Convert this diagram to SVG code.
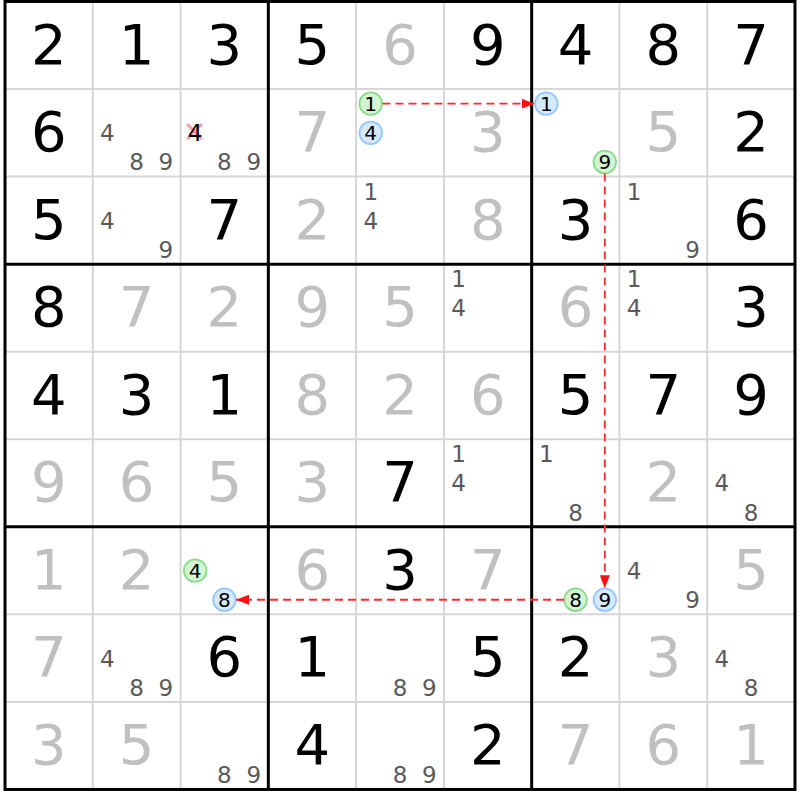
<svg xmlns="http://www.w3.org/2000/svg" width="800" height="800" viewBox="0 0 800 800">
<style>
text{font-family:"DejaVu Sans","Liberation Sans",sans-serif;text-anchor:middle}
.g{font-size:56px;fill:#000}
.h{font-size:56px;fill:#c0c0c0}
.c{font-size:23px;fill:#5a5a5a}
.k{font-size:20px;fill:#000}
.thin{stroke:#d6d6d6;stroke-width:2}
.thick{stroke:#000;stroke-width:3}
.gc{fill:#d4f4d4;stroke:#88dc88;stroke-width:1.8}
.bc{fill:#d6eaff;stroke:#94c6ff;stroke-width:1.8}
.ar{stroke:#ff2a2a;stroke-width:1.8;stroke-dasharray:8 5;fill:none}
.x{stroke:#ff8898;stroke-width:3;opacity:0.8}
</style>
<defs>
<marker id="ah" markerUnits="userSpaceOnUse" viewBox="0 0 13 10" markerWidth="13" markerHeight="10" refX="13" refY="5" orient="auto">
<path d="M0,0 L13,5 L0,10 z" fill="#ff1010"/>
</marker>
</defs>
<rect x="0" y="0" width="800" height="800" fill="#fff"/>
<g id="grid">
<g class="thin">
<line x1="92.78" y1="1.5" x2="92.78" y2="789.45"/>
<line x1="180.56" y1="1.5" x2="180.56" y2="789.45"/>
<line x1="356.11" y1="1.5" x2="356.11" y2="789.45"/>
<line x1="443.89" y1="1.5" x2="443.89" y2="789.45"/>
<line x1="619.44" y1="1.5" x2="619.44" y2="789.45"/>
<line x1="707.22" y1="1.5" x2="707.22" y2="789.45"/>
<line x1="5" y1="89.05" x2="795" y2="89.05"/>
<line x1="5" y1="176.6" x2="795" y2="176.6"/>
<line x1="5" y1="351.7" x2="795" y2="351.7"/>
<line x1="5" y1="439.25" x2="795" y2="439.25"/>
<line x1="5" y1="614.35" x2="795" y2="614.35"/>
<line x1="5" y1="701.9" x2="795" y2="701.9"/>
</g>
<g class="thick">
<line x1="268.33" y1="1.5" x2="268.33" y2="789.45"/>
<line x1="531.67" y1="1.5" x2="531.67" y2="789.45"/>
<line x1="5" y1="264.15" x2="795" y2="264.15"/>
<line x1="5" y1="526.8" x2="795" y2="526.8"/>
<rect x="5" y="1.5" width="790" height="787.95" fill="none"/>
</g>
</g>
<g id="values">
<g id="r1">
<text class="g" x="48.89" y="63.5">2</text><text class="g" x="136.67" y="63.5">1</text><text class="g" x="224.44" y="63.5">3</text>
<text class="g" x="312.22" y="63.5">5</text><text class="h" x="400" y="63.5">6</text><text class="g" x="487.78" y="63.5">9</text>
<text class="g" x="575.56" y="63.5">4</text><text class="g" x="663.33" y="63.5">8</text><text class="g" x="751.11" y="63.5">7</text>
</g>
<g id="r2">
<text class="g" x="48.89" y="151.05">6</text>
<text class="h" x="312.22" y="151.05">7</text><text class="h" x="487.78" y="151.05">3</text>
<text class="h" x="663.33" y="151.05">5</text><text class="g" x="751.11" y="151.05">2</text>
</g>
<g id="r3">
<text class="g" x="48.89" y="238.6">5</text><text class="g" x="224.44" y="238.6">7</text>
<text class="h" x="312.22" y="238.6">2</text><text class="h" x="487.78" y="238.6">8</text>
<text class="g" x="575.56" y="238.6">3</text><text class="g" x="751.11" y="238.6">6</text>
</g>
<g id="r4">
<text class="g" x="48.89" y="326.15">8</text><text class="h" x="136.67" y="326.15">7</text><text class="h" x="224.44" y="326.15">2</text>
<text class="h" x="312.22" y="326.15">9</text><text class="h" x="400" y="326.15">5</text>
<text class="h" x="575.56" y="326.15">6</text><text class="g" x="751.11" y="326.15">3</text>
</g>
<g id="r5">
<text class="g" x="48.89" y="413.7">4</text><text class="g" x="136.67" y="413.7">3</text><text class="g" x="224.44" y="413.7">1</text>
<text class="h" x="312.22" y="413.7">8</text><text class="h" x="400" y="413.7">2</text><text class="h" x="487.78" y="413.7">6</text>
<text class="g" x="575.56" y="413.7">5</text><text class="g" x="663.33" y="413.7">7</text><text class="g" x="751.11" y="413.7">9</text>
</g>
<g id="r6">
<text class="h" x="48.89" y="501.25">9</text><text class="h" x="136.67" y="501.25">6</text><text class="h" x="224.44" y="501.25">5</text>
<text class="h" x="312.22" y="501.25">3</text><text class="g" x="400" y="501.25">7</text>
<text class="h" x="663.33" y="501.25">2</text>
</g>
<g id="r7">
<text class="h" x="48.89" y="588.8">1</text><text class="h" x="136.67" y="588.8">2</text>
<text class="h" x="312.22" y="588.8">6</text><text class="g" x="400" y="588.8">3</text><text class="h" x="487.78" y="588.8">7</text>
<text class="h" x="751.11" y="588.8">5</text>
</g>
<g id="r8">
<text class="h" x="48.89" y="676.35">7</text><text class="g" x="224.44" y="676.35">6</text>
<text class="g" x="312.22" y="676.35">1</text><text class="g" x="487.78" y="676.35">5</text>
<text class="g" x="575.56" y="676.35">2</text><text class="h" x="663.33" y="676.35">3</text>
</g>
<g id="r9">
<text class="h" x="48.89" y="763.9">3</text><text class="h" x="136.67" y="763.9">5</text>
<text class="g" x="312.22" y="763.9">4</text><text class="g" x="487.78" y="763.9">2</text>
<text class="h" x="575.56" y="763.9">7</text><text class="h" x="663.33" y="763.9">6</text><text class="h" x="751.11" y="763.9">1</text>
</g>
</g>
<g id="candidates">
<g id="r2c2"><text class="c" x="107.41" y="141.2">4</text><text class="c" x="136.67" y="170.4">8</text><text class="c" x="165.93" y="170.4">9</text></g>
<g id="r2c3"><line class="x" x1="187" y1="124" x2="202" y2="139"/><line class="x" x1="202" y1="124" x2="187" y2="139"/><text class="c" x="195.19" y="141.2" style="fill:#000">4</text><text class="c" x="224.44" y="170.4">8</text><text class="c" x="253.71" y="170.4">9</text></g>
<g id="r2c5"><circle class="gc" cx="370.74" cy="103.65" r="11.3"/><text class="k" x="370.74" y="110.9">1</text><circle class="bc" cx="370.74" cy="132.83" r="11.3"/><text class="k" x="370.74" y="140.1">4</text></g>
<g id="r2c7"><circle class="bc" cx="546.3" cy="103.65" r="11.3"/><text class="k" x="546.3" y="110.9">1</text><circle class="gc" cx="604.82" cy="162.01" r="11.3"/><text class="k" x="604.82" y="169.3">9</text></g>
<g id="r3c2"><text class="c" x="107.41" y="228.7">4</text><text class="c" x="165.93" y="257.9">9</text></g>
<g id="r3c5"><text class="c" x="370.74" y="199.5">1</text><text class="c" x="370.74" y="228.7">4</text></g>
<g id="r3c8"><text class="c" x="634.07" y="199.5">1</text><text class="c" x="692.59" y="257.9">9</text></g>
<g id="r4c6"><text class="c" x="458.52" y="287.1">1</text><text class="c" x="458.52" y="316.3">4</text></g>
<g id="r4c8"><text class="c" x="634.07" y="287.1">1</text><text class="c" x="634.07" y="316.3">4</text></g>
<g id="r6c6"><text class="c" x="458.52" y="462.2">1</text><text class="c" x="458.52" y="491.4">4</text></g>
<g id="r6c7"><text class="c" x="546.3" y="462.2">1</text><text class="c" x="575.56" y="520.6">8</text></g>
<g id="r6c9"><text class="c" x="721.85" y="491.4">4</text><text class="c" x="751.11" y="520.6">8</text></g>
<g id="r7c3"><circle class="gc" cx="195.19" cy="570.58" r="11.3"/><text class="k" x="195.19" y="577.8">4</text><circle class="bc" cx="224.44" cy="599.76" r="11.3"/><text class="k" x="224.44" y="607">8</text></g>
<g id="r7c7"><circle class="gc" cx="575.56" cy="599.76" r="11.3"/><text class="k" x="575.56" y="607">8</text><circle class="bc" cx="604.82" cy="599.76" r="11.3"/><text class="k" x="604.82" y="607">9</text></g>
<g id="r7c8"><text class="c" x="634.07" y="578.9">4</text><text class="c" x="692.59" y="608.1">9</text></g>
<g id="r8c2"><text class="c" x="107.41" y="666.5">4</text><text class="c" x="136.67" y="695.7">8</text><text class="c" x="165.93" y="695.7">9</text></g>
<g id="r8c5"><text class="c" x="400" y="695.7">8</text><text class="c" x="429.26" y="695.7">9</text></g>
<g id="r8c9"><text class="c" x="721.85" y="666.5">4</text><text class="c" x="751.11" y="695.7">8</text></g>
<g id="r9c3"><text class="c" x="224.44" y="783.2">8</text><text class="c" x="253.71" y="783.2">9</text></g>
<g id="r9c5"><text class="c" x="400" y="783.2">8</text><text class="c" x="429.26" y="783.2">9</text></g>
</g>
<g id="connectors">
<line class="ar" x1="382.5" y1="103.65" x2="534.5" y2="103.65" marker-end="url(#ah)"/>
<line class="ar" x1="604.82" y1="173.5" x2="604.82" y2="588.3" marker-end="url(#ah)"/>
<line class="ar" x1="564" y1="599.76" x2="236" y2="599.76" marker-end="url(#ah)"/>
</g>
</svg>
